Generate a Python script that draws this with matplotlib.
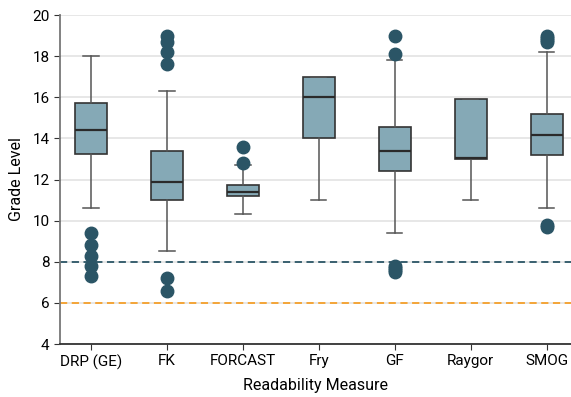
import matplotlib
matplotlib.use("Agg")
import matplotlib.pyplot as plt

plt.rcParams['font.family'] = ['Liberation Sans Narrow', 'Roboto', 'DejaVu Sans']

# box statistics
measures = ["DRP (GE)", "FK", "FORCAST", "Fry", "GF", "Raygor", "SMOG"]
whislo = [10.6, 8.5, 10.3, 11.0, 9.4, 11.0, 10.6]
q1 = [13.25, 11.0, 11.2, 14.0, 12.4, 13.0, 13.2]
med = [14.4, 11.9, 11.4, 16.0, 13.4, 13.05, 14.15]
q3 = [15.7, 13.4, 11.75, 17.0, 14.55, 15.9, 15.2]
whishi = [18.0, 16.3, 12.7, 17.0, 17.8, 15.9, 18.2]
outliers = [
    [9.4, 8.8, 8.3, 7.8, 7.3],
    [19.0, 18.7, 18.2, 17.6, 7.2, 6.6],
    [13.6, 12.8],
    [],
    [19.0, 18.1, 7.8, 7.7, 7.6, 7.5],
    [],
    [19.0, 18.9, 18.8, 18.7, 9.8, 9.7],
]
target_levels = [8, 6]

stats = []
for i, name in enumerate(measures):
    stats.append(dict(label=name, whislo=whislo[i], q1=q1[i], med=med[i],
                      q3=q3[i], whishi=whishi[i], fliers=outliers[i]))

fig = plt.figure(figsize=(5.71, 3.97), dpi=100)
ax = fig.add_axes([0.105, 0.1335, 0.895, 0.8285])

ax.set_axisbelow(True)
ax.yaxis.grid(True, color='#e3e3e3', linewidth=1.2)

ax.axhline(target_levels[0], color='#2b5566', linestyle=(0, (4, 2.5)), linewidth=1.3, zorder=1)
ax.axhline(target_levels[1], color='#f5a02a', linestyle=(0, (4, 2.5)), linewidth=1.3, zorder=1)

ax.bxp(stats, positions=range(len(measures)), widths=0.42, patch_artist=True,
       boxprops=dict(facecolor='#85a9b6', edgecolor='#333333', linewidth=1.2),
       medianprops=dict(color='#2a2a2a', linewidth=1.6),
       whiskerprops=dict(color='#555555', linewidth=1.1),
       capprops=dict(color='#555555', linewidth=1.1),
       capwidths=0.2,
       flierprops=dict(marker='o', markerfacecolor='#2b5566', markeredgecolor='#2b5566',
                       markersize=9))

ax.set_xlim(-0.41, 6.32)
ax.set_ylim(4, 20)
ax.set_yticks(range(4, 21, 2))
ax.set_xticks(range(len(measures)))
ax.set_xticklabels(measures)
ax.tick_params(labelsize=11, color='#333333', length=4)
ax.set_xlabel("Readability Measure", fontsize=11.5, labelpad=6)
ax.set_ylabel("Grade Level", fontsize=11.5, labelpad=6)

for s in ['top', 'right']:
    ax.spines[s].set_visible(False)
ax.spines['left'].set_color('#777777')
ax.spines['bottom'].set_color('#333333')
ax.spines['left'].set_linewidth(1.3)
ax.spines['bottom'].set_linewidth(1.3)

fig.savefig("out.png", dpi=100)
